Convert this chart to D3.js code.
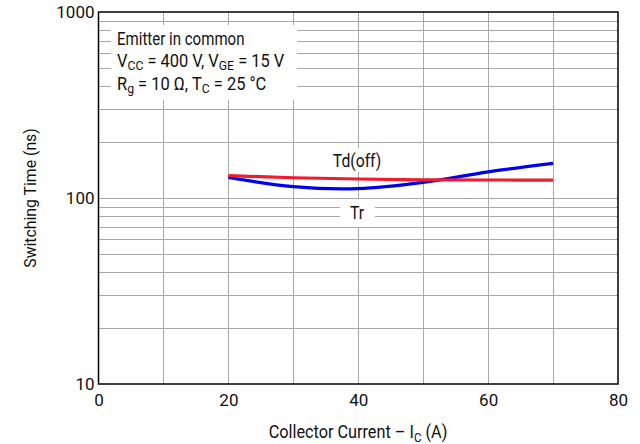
<!DOCTYPE html>
<html>
<head>
<meta charset="utf-8">
<script src="https://cdn.jsdelivr.net/npm/d3@7"></script>
<style>
  html, body { margin: 0; padding: 0; background: #fff; }
  svg { display: block; font-family: Roboto, "Liberation Sans", Arial, sans-serif; }
</style>
</head>
<body>
<svg id="chart" width="640" height="444"></svg>
<script>
// ---- data ----
const currents = [20, 30, 40, 50, 60, 70];               // Collector current IC (A)
const tdOff    = [132, 128.5, 126.5, 125.3, 125, 124.8];  // Td(off) (ns)
const tr       = [129, 115, 112.3, 121.3, 138.2, 153.4];  // Tr (ns)
const xTicks   = [0, 20, 40, 60, 80];
const yTicks   = [10, 100, 1000];

const svg = d3.select("#chart");
const M = { left: 98.5, right: 618, top: 12, bottom: 384 };

const x = d3.scaleLinear().domain([0, 80]).range([M.left, M.right]);
const y = d3.scaleLog().domain([10, 1000]).range([M.bottom, M.top]);

const gridColor = "#a8a8a8";
const grid = svg.append("g");

// horizontal grid (log minors + majors)
const hVals = [];
for (let dec = 10; dec < 1000; dec *= 10) {
  for (let k = 1; k <= 9; k++) { if (k > 1 || dec > 10) hVals.push(k * dec); }
}
grid.selectAll("line.h").data(hVals).join("line")
  .attr("x1", M.left).attr("x2", M.right)
  .attr("y1", d => Math.round(y(d)) + 0.5).attr("y2", d => Math.round(y(d)) + 0.5)
  .attr("stroke", gridColor).attr("stroke-width", 1);

// vertical grid every 10 A
grid.selectAll("line.v").data(d3.range(10, 80, 10)).join("line")
  .attr("y1", M.top).attr("y2", M.bottom)
  .attr("x1", d => Math.round(x(d)) + 0.5).attr("x2", d => Math.round(x(d)) + 0.5)
  .attr("stroke", gridColor).attr("stroke-width", 1);

// annotation box background
svg.append("rect").attr("x", 111).attr("y", 25).attr("width", 186).attr("height", 75).attr("fill", "#fff");

// label backgrounds
svg.append("rect").attr("x", 326).attr("y", 148).attr("width", 62).attr("height", 24).attr("fill", "#fff");
svg.append("rect").attr("x", 340).attr("y", 199).attr("width", 35).attr("height", 28).attr("fill", "#fff");

// frame
svg.append("rect").attr("x", M.left).attr("y", M.top)
  .attr("width", M.right - M.left).attr("height", M.bottom - M.top)
  .attr("fill", "none").attr("stroke", "#000").attr("stroke-width", 1.5);

// axes
const xAxis = d3.axisBottom(x).tickValues(xTicks).tickSize(0).tickPadding(10);
const gx = svg.append("g").attr("transform", `translate(0,${M.bottom})`).call(xAxis);
gx.select(".domain").remove();
gx.selectAll("text").attr("font-size", 17).attr("fill", "#111").attr("font-family", "Roboto, sans-serif");

const yAxis = d3.axisLeft(y).tickValues(yTicks).tickFormat(d3.format("d")).tickSize(0).tickPadding(4);
const gy = svg.append("g").attr("transform", `translate(${M.left},0)`).call(yAxis);
gy.select(".domain").remove();
gy.selectAll("text").attr("font-size", 17).attr("fill", "#111").attr("font-family", "Roboto, sans-serif");

// axis titles
const xt = svg.append("text").attr("transform", "translate(358,438) scale(0.93,1)")
  .attr("text-anchor", "middle").attr("font-size", 17.5).attr("fill", "#111");
xt.append("tspan").text("Collector Current – I");
xt.append("tspan").attr("font-size", 12.5).attr("dy", 4).text("C");
xt.append("tspan").attr("dy", -4).text(" (A)");

svg.append("text").attr("transform", "translate(36,198) rotate(-90) scale(0.93,1)")
  .attr("text-anchor", "middle").attr("font-size", 17).attr("fill", "#111")
  .text("Switching Time (ns)");

// annotation text
const note = svg.append("g").attr("font-size", 17.5).attr("fill", "#111");
function noteLine(yPos, sx) {
  return note.append("text").attr("transform", `translate(117,${yPos}) scale(${sx},1)`);
}
noteLine(45, 0.86).text("Emitter in common");
const l2 = noteLine(67, 0.94);
l2.append("tspan").text("V");
l2.append("tspan").attr("font-size", 13).attr("dy", 3).text("CC");
l2.append("tspan").attr("dy", -3).text(" = 400 V, V");
l2.append("tspan").attr("font-size", 13).attr("dy", 3).text("GE");
l2.append("tspan").attr("dy", -3).text(" = 15 V");
const l3 = noteLine(89.5, 0.94);
l3.append("tspan").text("R");
l3.append("tspan").attr("font-size", 13).attr("dy", 3).text("g");
l3.append("tspan").attr("dy", -3).text(" = 10 Ω, T");
l3.append("tspan").attr("font-size", 13).attr("dy", 3).text("C");
l3.append("tspan").attr("dy", -3).text(" = 25 °C");

// curves
const line = d3.line().x(d => x(d[0])).y(d => y(d[1])).curve(d3.curveCatmullRom.alpha(0.5));
svg.append("path").datum(currents.map((c, i) => [c, tr[i]]))
  .attr("d", line).attr("fill", "none").attr("stroke", "#0000f0").attr("stroke-width", 3.2);
svg.append("path").datum(currents.map((c, i) => [c, tdOff[i]]))
  .attr("d", line).attr("fill", "none").attr("stroke", "#ee1c2c").attr("stroke-width", 3.2);

// curve labels
svg.append("text").attr("transform", "translate(357,167) scale(0.9,1)").attr("text-anchor", "middle")
  .attr("font-size", 17.5).attr("fill", "#111").text("Td(off)");
svg.append("text").attr("transform", "translate(357,219) scale(0.9,1)").attr("text-anchor", "middle")
  .attr("font-size", 17.5).attr("fill", "#111").text("Tr");
</script>
</body>
</html>
